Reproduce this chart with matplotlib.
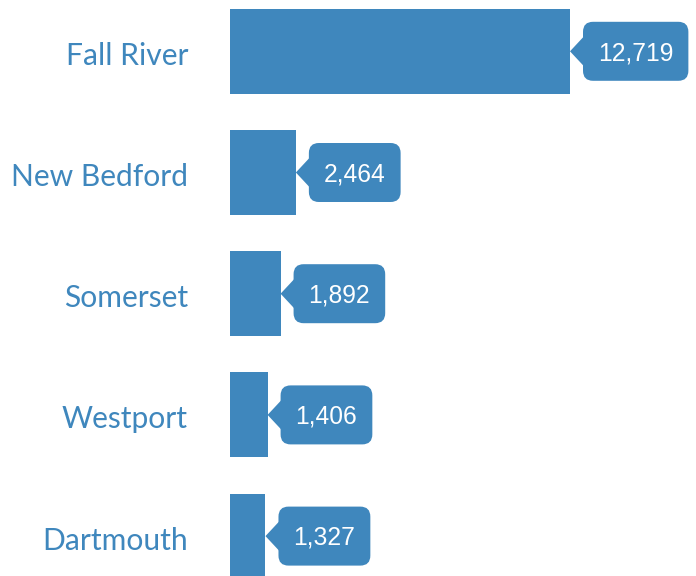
import matplotlib
matplotlib.use("Agg")
import matplotlib.pyplot as plt
from matplotlib.patches import FancyBboxPatch, Polygon
from matplotlib.transforms import IdentityTransform

categories = ["Fall River", "New Bedford", "Somerset", "Westport", "Dartmouth"]
values = [12719, 2464, 1892, 1406, 1327]
value_labels = ["12,719", "2,464", "1,892", "1,406", "1,327"]

COLOR = "#3f87bd"
W, H, DPI = 696, 576, 100

fig = plt.figure(figsize=(W / DPI, H / DPI), dpi=DPI)
ax = fig.add_axes([230 / W, 0, 1 - 230 / W, 1])
ax.set_axis_off()

ypos = list(range(len(categories)))
ax.barh(ypos, values, height=0.70, color=COLOR)
ax.set_xlim(0, 466 / 340 * 12719)
pitch = 121.2
top_c = 51.3
ax.set_ylim((H - top_c) / pitch, -top_c / pitch)

fig.canvas.draw()
renderer = fig.canvas.get_renderer()
ident = IdentityTransform()

for i, (v, lab, cat) in enumerate(zip(values, value_labels, categories)):
    x0, yc = ax.transData.transform((v, i))
    # category label
    _, ylab = ax.transData.transform((0, i))
    fig.text(188, ylab - 13.5, cat, ha="right", va="baseline", fontsize=21.6,
             family="Lato", color=COLOR, transform=ident)
    pw, ph = 13, 15
    bx = x0 + pw
    pad = 15
    t = fig.text(0, 0, lab, fontsize=17.7, family="Liberation Sans", color="white",
                 ha="left", va="baseline", transform=ident, zorder=5)
    tw = t.get_window_extent(renderer).width
    t.set_position((bx + pad, yc - 8.8))
    bw = tw + 2 * pad
    bh = 59
    box = FancyBboxPatch((bx, yc - bh / 2), bw, bh,
                         boxstyle="round,pad=0,rounding_size=10",
                         transform=ident, facecolor=COLOR, edgecolor="none", zorder=3)
    fig.patches.append(box)
    tri = Polygon([(x0, yc), (bx + 1, yc + ph), (bx + 1, yc - ph)], closed=True,
                  transform=ident, facecolor=COLOR, edgecolor="none", zorder=3)
    fig.patches.append(tri)

fig.savefig("out.png", dpi=DPI)
